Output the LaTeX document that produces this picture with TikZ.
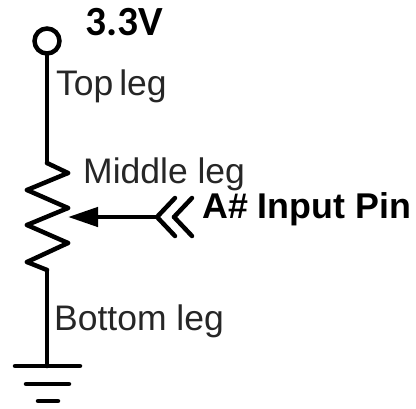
\documentclass[tikz,border=0pt]{standalone}
\usepackage{fontspec}
\setmainfont{Liberation Sans}
\newfontfamily\supplyfont{Carlito}
\usetikzlibrary{
  arrows.meta,
  chains,
  scopes
}

\begin{document}
\begin{tikzpicture}[
      x=1pt,y=-1pt,
      point/.style={coordinate},
      wire/.style={line width=4.5pt,line cap=round,draw=black},
      terminal/.style={
         circle,
         minimum size=25pt,
         inner sep=0pt,
         line width=4.5pt,
         draw=black,
      },
      leglabel/.style={
         anchor=base west,
         inner sep=0pt,
         text=black!85,
         font=\fontsize{35.5}{36}\selectfont,
      },
      pinlabel/.style={
         anchor=base west,
         inner sep=0pt,
         font=\bfseries\fontsize{35.8}{36}\selectfont,
      },
      supplylabel/.style={
         anchor=base west,
         inner sep=0pt,
         font=\supplyfont\bfseries\fontsize{41.5}{42}\selectfont,
      },
      tip/.style={-{Triangle[length=30pt,width=19pt]},shorten >=0pt},
      every join/.style={wire},
    ]
    \useasboundingbox (0,0) rectangle (416,408);
    % supply and resistor
    \node (vcc) [terminal] at (47,41) {};
    \node (r0) [point] at (47,163) {};
    \node (r1) [point] at (68,173) {};
    \node (r2) [point] at (27,190) {};
    \node (r3) [point] at (68,208) {};
    \node (r4) [point] at (27,225) {};
    \node (r5) [point] at (68,243) {};
    \node (r6) [point] at (27,262) {};
    \node (r7) [point] at (47,270) {};
    \node (gnd) [point] at (47,366) {};
    % ground bars
    \node (g1l) [point] at (15,366) {};
    \node (g1r) [point] at (80,366) {};
    \node (g2l) [point] at (26,384) {};
    \node (g2r) [point] at (69,384) {};
    \node (g3l) [point] at (38,401) {};
    \node (g3r) [point] at (58,401) {};
    % input pin
    \node (wiper) [point] at (68,217) {};
    \node (c1) [point] at (157,217) {};
    \node (c1t) [point] at (175,198) {};
    \node (c1b) [point] at (175,236) {};
    \node (c2) [point] at (174,217) {};
    \node (c2t) [point] at (192,198) {};
    \node (c2b) [point] at (192,236) {};
    % labels
    \node (supply) [supplylabel] at (85,35) {3.3V};
    \node (top) [leglabel] at (56,95) {Top\hspace{-4pt} leg};
    \node (middle) [leglabel] at (83,183) {Middle leg};
    \node (bottom) [leglabel] at (54,330) {Bottom leg};
    \node (pin) [pinlabel] at (202,218) {A\# Input Pin};
  { [start chain]
       \chainin (vcc);
       \chainin (r0)    [join];
       \chainin (r1)    [join];
       \chainin (r2)    [join];
       \chainin (r3)    [join];
       \chainin (r4)    [join];
       \chainin (r5)    [join];
       \chainin (r6)    [join];
       \chainin (r7)    [join];
       \chainin (gnd)   [join];
  }
  { [start chain]
       \chainin (g1l);
       \chainin (g1r)   [join];
  }
  { [start chain]
       \chainin (g2l);
       \chainin (g2r)   [join];
  }
  { [start chain]
       \chainin (g3l);
       \chainin (g3r)   [join];
  }
  { [start chain]
       \chainin (c1);
       \chainin (wiper) [join=by tip];
  }
  { [start chain]
       \chainin (c1t);
       \chainin (c1)    [join];
       \chainin (c1b)   [join];
  }
  { [start chain]
       \chainin (c2t);
       \chainin (c2)    [join];
       \chainin (c2b)   [join];
  }
\end{tikzpicture}
\end{document}
